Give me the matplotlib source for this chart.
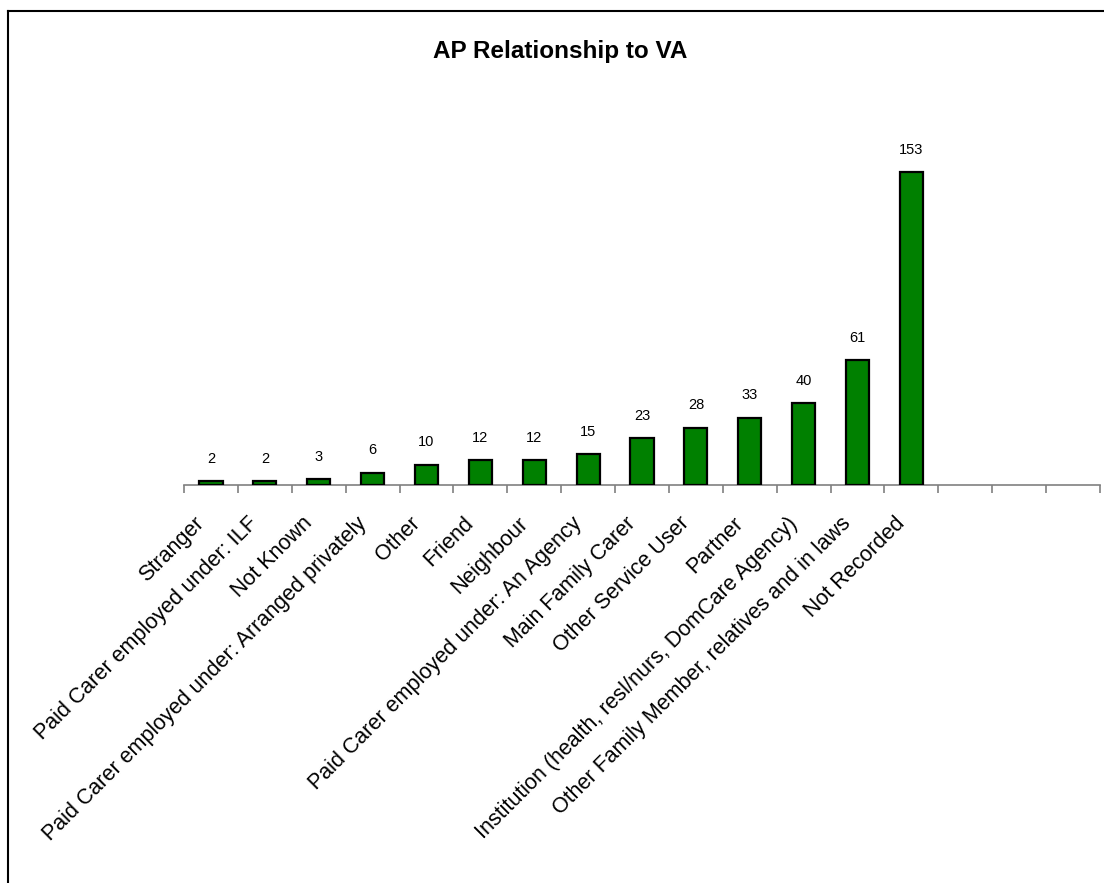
import matplotlib
matplotlib.use("Agg")
import matplotlib.pyplot as plt
from matplotlib.lines import Line2D
from matplotlib.transforms import ScaledTranslation

plt.rcParams['font.family'] = ['Liberation Sans', 'DejaVu Sans']

categories = [
    "Stranger",
    "Paid Carer employed under: ILF",
    "Not Known",
    "Paid Carer employed under: Arranged privately",
    "Other",
    "Friend",
    "Neighbour",
    "Paid Carer employed under: An Agency",
    "Main Family Carer",
    "Other Service User",
    "Partner",
    "Institution (health, resl/nurs, DomCare Agency)",
    "Other Family Member, relatives and in laws",
    "Not Recorded",
]
counts = [2, 2, 3, 6, 10, 12, 12, 15, 23, 28, 33, 40, 61, 153]
empty_slots = 3  # blank categories at the right end of the axis

n_slots = len(categories) + empty_slots
positions = list(range(len(categories)))

fig = plt.figure(figsize=(11.04, 8.83), dpi=100)
ax = fig.add_axes([0.1667, 0.4507, 0.8297, 0.3708])

bars = ax.bar(positions, counts, width=0.43, color="#008000",
              edgecolor="black", linewidth=1.6, zorder=3)
ax.bar_label(bars, labels=[str(c) for c in counts], padding=11,
             fontsize=10.5)

ax.set_xlim(-0.5, n_slots - 0.5)
ax.set_ylim(0, 160)

for side in ("left", "right", "top"):
    ax.spines[side].set_visible(False)
ax.spines["bottom"].set_color("#808080")
ax.spines["bottom"].set_linewidth(1.2)
ax.set_yticks([])

ax.set_xticks(positions)
ax.set_xticklabels(categories, rotation=45, ha="right", va="top",
                   rotation_mode="anchor", fontsize=15.5)
ax.tick_params(axis="x", which="major", length=0, pad=18)
# nudge labels so each one ends just left of its bar
shift = ScaledTranslation(-0.17, -0.03, fig.dpi_scale_trans)
for lbl in ax.get_xticklabels():
    lbl.set_transform(lbl.get_transform() + shift)
ax.set_xticks([i - 0.5 for i in range(n_slots + 1)], minor=True)
ax.tick_params(axis="x", which="minor", length=6, width=1.2,
               color="#808080", direction="out")

fig.text(0.507, 0.942, "AP Relationship to VA", ha="center", va="center",
         fontsize=17.5, fontweight="bold")

# chart-area border (left and top edges only are visible)
fig.add_artist(Line2D([8 / 1104, 8 / 1104], [0, 1 - 11 / 883],
                      color="black", linewidth=1.5))
fig.add_artist(Line2D([8 / 1104, 1], [1 - 11 / 883, 1 - 11 / 883],
                      color="black", linewidth=1.5))

fig.savefig("out.png", dpi=100)
